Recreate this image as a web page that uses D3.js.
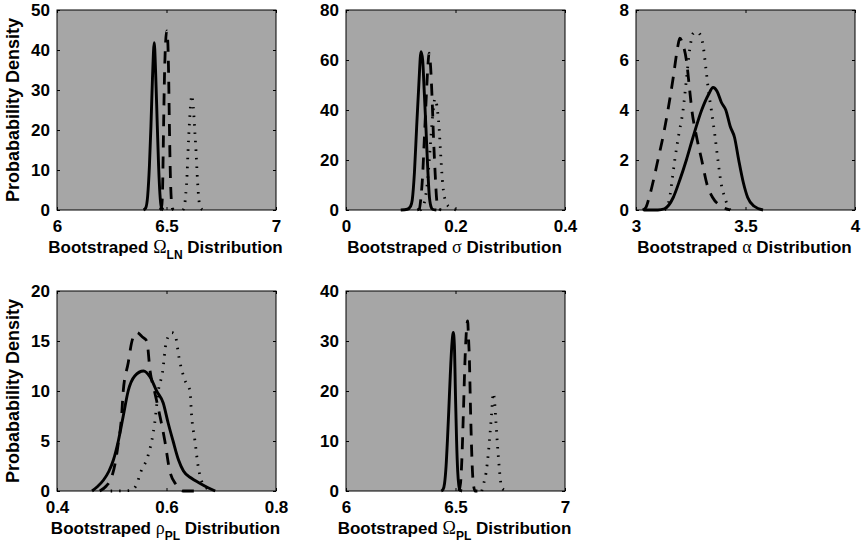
<!DOCTYPE html>
<html>
<head>
<meta charset="utf-8">
<script src="https://cdn.jsdelivr.net/npm/d3@7"></script>
<style>
  body { margin: 0; background: #fff; }
  svg { display: block; }
  .tick text { font-family: "Liberation Sans", Arial, Helvetica, sans-serif; font-weight: bold; font-size: 17px; fill: #000; }
  .lbl { font-family: "Liberation Sans", Arial, Helvetica, sans-serif; font-weight: bold; fill: #000; }
  .greek { font-family: "Liberation Serif", "Times New Roman", serif; font-weight: normal; }
</style>
</head>
<body>
<svg id="chart" width="863" height="546"></svg>
<script>
// Bootstrapped parameter densities: three estimates per parameter
// (solid, dashed, dotted), values as [value, density].

// --- Omega_LN ---
var omegaLnSolid = [[6.395,0],[6.405,0.5],[6.414,3.5],[6.422,11],[6.429,21],[6.436,33],[6.444,41.8],
    [6.450,35],[6.458,21],[6.464,11],[6.470,4],[6.476,0.8],[6.485,0]];
var omegaLnDashed = [[6.470,0],[6.478,1],[6.482,5],[6.487,22],[6.491,34],[6.496,42],[6.501,44.8],
    [6.506,42],[6.510,33],[6.513,22],[6.518,8],[6.522,2.5],[6.526,0.5],[6.532,0]];
var omegaLnDotted = [[6.575,0],[6.582,1],[6.588,4],[6.594,9],[6.598,14.4],[6.605,22],[6.611,27],[6.616,28.7],
    [6.622,26],[6.629,20],[6.635,14.4],[6.642,7],[6.648,2.5],[6.655,0.6],[6.668,0]];
var omegaLnXTicks = [6, 6.5, 7];
var omegaLnXLabels = ["6", "6.5", "7"];
var omegaLnYTicks = [0, 10, 20, 30, 40, 50];

// --- sigma ---
var sigmaSolid = [[0.100,0],[0.112,0.3],[0.118,1.5],[0.121,4],[0.125,15],[0.129,33],[0.133,50],[0.137,63.3],
    [0.140,60],[0.143,47],[0.146,33],[0.149,18],[0.152,6],[0.155,1.5],[0.158,0.3],[0.165,0]];
var sigmaDashed = [[0.130,0],[0.134,0.5],[0.1364,4],[0.140,14],[0.143,28],[0.147,47],[0.150,59],[0.1516,62.7],
    [0.154,59],[0.157,46],[0.160,28],[0.163,14],[0.1657,4],[0.169,0.5],[0.174,0]];
var sigmaDotted = [[0.135,0],[0.140,1],[0.145,5],[0.150,14],[0.1534,24],[0.158,37],[0.1626,44.5],
    [0.167,40],[0.170,33],[0.173,22],[0.176,12],[0.180,5],[0.187,1.5],[0.202,0]];
var sigmaXTicks = [0, 0.2, 0.4];
var sigmaXLabels = ["0", "0.2", "0.4"];
var sigmaYTicks = [0, 20, 40, 60, 80];

// --- alpha ---
var alphaSolid = [[3.035,0],[3.10,0],[3.13,0.05],[3.15,0.2],[3.17,0.5],[3.20,1.2],[3.23,2.0],[3.26,2.9],
    [3.30,4.0],[3.33,4.6],[3.352,4.9],[3.37,4.75],[3.39,4.3],[3.41,4.0],[3.43,3.35],[3.45,2.9],
    [3.469,2.0],[3.49,1.1],[3.51,0.5],[3.54,0.15],[3.58,0]];
var alphaDashed = [[3.03,0],[3.045,0.1],[3.06,0.5],[3.08,1.2],[3.10,2.0],[3.125,3.0],[3.146,4.0],
    [3.17,5.3],[3.19,6.5],[3.20,6.87],[3.215,6.6],[3.23,6.0],[3.245,4.8],[3.255,4.0],[3.275,3.0],
    [3.30,2.0],[3.325,1.0],[3.35,0.5],[3.39,0.15],[3.43,0]];
var alphaDotted = [[3.13,0],[3.145,0.2],[3.154,0.5],[3.165,1.2],[3.177,2.0],[3.195,3.0],[3.215,4.0],
    [3.23,5.2],[3.245,6.4],[3.26,7.05],[3.275,7.13],[3.29,7.05],[3.306,6.6],[3.32,5.6],[3.332,4.7],
    [3.344,4.0],[3.36,3.0],[3.374,2.0],[3.39,1.0],[3.405,0.5],[3.43,0]];
var alphaXTicks = [3, 3.5, 4];
var alphaXLabels = ["3", "3.5", "4"];
var alphaYTicks = [0, 2, 4, 6, 8];

// --- rho_PL ---
var rhoSolid = [[0.464,0],[0.473,0.4],[0.485,1.1],[0.495,2.0],[0.503,3.1],[0.512,5.0],[0.521,7.5],
    [0.530,10.0],[0.542,11.5],[0.558,12.0],[0.570,11.4],[0.582,10.0],[0.594,8.8],[0.603,6.8],
    [0.612,5.0],[0.622,3.1],[0.631,2.0],[0.645,1.3],[0.660,0.8],[0.675,0.35],[0.689,0]];
var rhoDashed = [[0.478,0],[0.490,0.5],[0.500,1.4],[0.507,3.0],[0.512,4.8],[0.518,7.5],[0.521,10.0],
    [0.530,12.8],[0.537,15.0],[0.5455,15.85],[0.556,15.4],[0.564,15.0],[0.570,12.0],[0.578,10.0],
    [0.588,7.5],[0.597,5.0],[0.606,2.0],[0.618,0.6],[0.630,0],[0.650,0]];
var rhoDotted = [[0.498,0],[0.535,0.05],[0.545,0.6],[0.553,1.9],[0.5655,3.4],[0.573,5.0],[0.5785,6.8],
    [0.585,10.0],[0.5925,11.8],[0.600,15.0],[0.6095,15.85],[0.615,15.7],[0.624,13.0],[0.6335,11.1],
    [0.643,10.0],[0.6455,7.8],[0.652,5.0],[0.658,2.4],[0.664,1.0],[0.673,0.3],[0.683,0]];
var rhoXTicks = [0.4, 0.6, 0.8];
var rhoXLabels = ["0.4", "0.6", "0.8"];
var rhoYTicks = [0, 5, 10, 15, 20];

// --- Omega_PL ---
var omegaPlSolid = [[6.435,0],[6.443,0.3],[6.450,1.5],[6.457,5],[6.463,10],[6.469,15.8],[6.476,23],
    [6.483,29],[6.490,31.7],[6.495,29],[6.500,19],[6.505,10],[6.510,4],[6.515,1.2],[6.520,0.2],[6.530,0]];
var omegaPlDashed = [[6.515,0],[6.523,1.6],[6.529,6.2],[6.536,15.6],[6.543,25.7],[6.549,31.5],
    [6.5555,34.0],[6.559,31],[6.563,27],[6.569,15.6],[6.575,6.5],[6.581,1.6],[6.590,0],[6.600,0]];
var omegaPlDotted = [[6.620,0],[6.630,1.7],[6.639,3.5],[6.650,7.6],[6.658,11.6],[6.665,15.6],
    [6.6726,19.6],[6.679,17.6],[6.685,13.6],[6.691,9.6],[6.698,5.6],[6.706,1.9],[6.715,0.4],[6.740,0]];
var omegaPlXTicks = [6, 6.5, 7];
var omegaPlXLabels = ["6", "6.5", "7"];
var omegaPlYTicks = [0, 10, 20, 30, 40];

var yTitle = "Probabability Density";

var panels = [
    { left: 57,  top: 10,  curves: [omegaLnSolid, omegaLnDashed, omegaLnDotted],
      xt: omegaLnXTicks, xl: omegaLnXLabels, yt: omegaLnYTicks, sym: "\u03A9", sub: "LN", ytitle: true },
    { left: 346, top: 10,  curves: [sigmaSolid, sigmaDashed, sigmaDotted],
      xt: sigmaXTicks, xl: sigmaXLabels, yt: sigmaYTicks, sym: "\u03C3", sub: null },
    { left: 636, top: 10,  curves: [alphaSolid, alphaDashed, alphaDotted],
      xt: alphaXTicks, xl: alphaXLabels, yt: alphaYTicks, sym: "\u03B1", sub: null },
    { left: 57,  top: 291, curves: [rhoSolid, rhoDashed, rhoDotted],
      xt: rhoXTicks, xl: rhoXLabels, yt: rhoYTicks, sym: "\u03C1", sub: "PL", ytitle: true },
    { left: 346, top: 291, curves: [omegaPlSolid, omegaPlDashed, omegaPlDotted],
      xt: omegaPlXTicks, xl: omegaPlXLabels, yt: omegaPlYTicks, sym: "\u03A9", sub: "PL" }
];

var W = 219, H = 200;
var styles = [
    { dash: null,      width: 2.9 },   // solid
    { dash: "12,9",    width: 2.8 },   // dashed
    { dash: "1.5,7",   width: 2.8 }    // dotted
];

var svg = d3.select("#chart");

panels.forEach(function (p) {
    var x = d3.scaleLinear().domain(d3.extent(p.xt)).range([0, W]);
    var y = d3.scaleLinear().domain(d3.extent(p.yt)).range([H, 0]);
    var g = svg.append("g").attr("transform", "translate(" + p.left + "," + p.top + ")");

    g.append("rect").attr("width", W).attr("height", H).attr("fill", "#a6a6a6");

    // MATLAB style: ticks inside on all four sides, labels bottom/left only
    var fmt = function (d, i) { return p.xl[i]; };
    g.append("g").attr("transform", "translate(0," + H + ")")
        .call(d3.axisBottom(x).tickValues(p.xt).tickFormat(fmt).tickSizeInner(-3).tickSizeOuter(0).tickPadding(9.5));
    g.append("g")
        .call(d3.axisLeft(y).tickValues(p.yt).tickFormat(d3.format("d")).tickSizeInner(-3).tickSizeOuter(0).tickPadding(7));
    g.append("g")
        .call(d3.axisTop(x).tickValues(p.xt).tickFormat("").tickSizeInner(-3).tickSizeOuter(0));
    g.append("g").attr("transform", "translate(" + W + ",0)")
        .call(d3.axisRight(y).tickValues(p.yt).tickFormat("").tickSizeInner(-3).tickSizeOuter(0));
    g.selectAll(".domain").remove();
    g.selectAll(".tick line").attr("stroke", "#000");

    g.append("rect").attr("width", W).attr("height", H)
        .attr("fill", "none").attr("stroke", "#000").attr("stroke-width", 1);

    var line = d3.line()
        .x(function (d) { return x(d[0]); })
        .y(function (d) { return y(d[1]); })
        .curve(d3.curveMonotoneX);

    p.curves.forEach(function (c, i) {
        g.append("path")
            .attr("d", line(c))
            .attr("fill", "none")
            .attr("stroke", "#000")
            .attr("stroke-width", styles[i].width)
            .attr("stroke-dasharray", styles[i].dash)
            .attr("stroke-linejoin", "round");
    });

    // x title with greek symbol and optional subscript
    var t = g.append("text").attr("class", "lbl")
        .attr("x", W / 2 - 1).attr("y", H + 43)
        .attr("text-anchor", "middle").style("font-size", "17px");
    t.append("tspan").text("Bootstraped ");
    t.append("tspan").attr("class", "greek").style("font-size", "18px").text(p.sym);
    if (p.sub) {
        t.append("tspan").style("font-size", "12px").attr("dy", 6).text(p.sub);
        t.append("tspan").attr("dy", -6).text(" Distribution");
    } else {
        t.append("tspan").text(" Distribution");
    }

    if (p.ytitle) {
        g.append("text").attr("class", "lbl")
            .attr("transform", "translate(" + (18.5 - p.left) + "," + (H / 2) + ") rotate(-90)")
            .attr("text-anchor", "middle").style("font-size", "18px")
            .text(yTitle);
    }
});
</script>
</body>
</html>
